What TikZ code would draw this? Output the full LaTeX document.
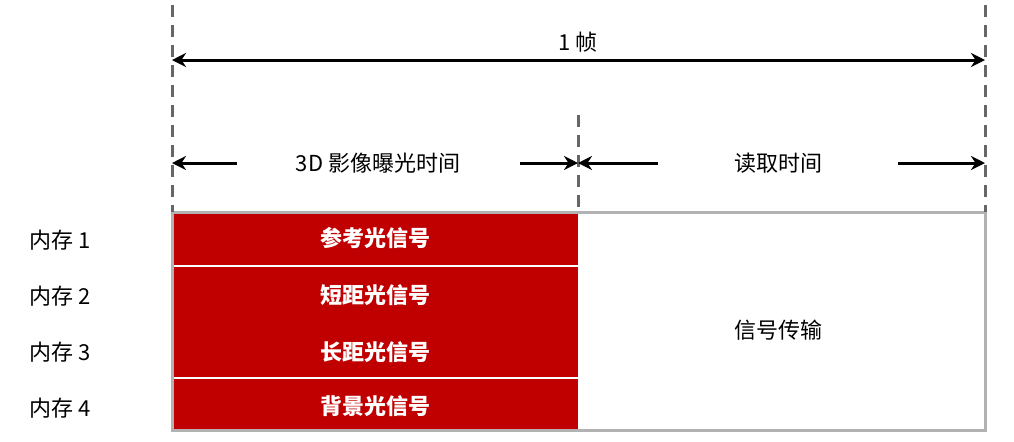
\documentclass[tikz,border=0pt]{standalone}
\usepackage{fontspec}
\setmainfont{Noto Sans CJK SC}
\usetikzlibrary{arrows.meta}
\definecolor{dred}{RGB}{192,0,0}
\begin{document}
\begin{tikzpicture}[x=0.5pt,y=-0.5pt,font=\fontsize{11}{13}\selectfont,
  guide/.style={draw=gray!80!black,line width=1.5pt,dash pattern=on 6pt off 4pt},
  arr/.style={line width=1.5pt,-{Stealth[length=7pt,width=7pt]}},
  lbl/.style={inner sep=0pt},
  wlbl/.style={inner sep=0pt,text=white,font=\fontsize{11}{13}\selectfont\bfseries}]
\useasboundingbox (0,0) rectangle (1014,441);
\fill[dred] (172,212) rectangle (578,430);
\draw[white,line width=0.6pt] (172,266) -- (578,266) (172,378) -- (578,378);
\draw[gray!60,line width=1.5pt] (172,212) rectangle (985,430);
\coordinate (g1t) at (172,5); \coordinate (g1b) at (172,212);
\coordinate (g2t) at (578,115); \coordinate (g2b) at (578,212);
\coordinate (g3t) at (985,5); \coordinate (g3b) at (985,212);
\draw[guide] (g1t) -- (g1b);
\draw[guide] (g2t) -- (g2b);
\draw[guide] (g3t) -- (g3b);
\coordinate (fa) at (172,60); \coordinate (fb) at (985,60);
\draw[arr,{Stealth[length=7pt,width=7pt]}-{Stealth[length=7pt,width=7pt]}] (fa) -- (fb);
\node[lbl] (frame) at (578,42) {1 帧};
\node[lbl] (exp) at (378,163) {3D 影像曝光时间};
\node[lbl] (read) at (778,163) {读取时间};
\coordinate (e1) at (172,163); \coordinate (e2) at (578,163);
\coordinate (r2) at (985,163);
\draw[arr] (237,163) -- (e1);
\draw[arr] (520,163) -- (e2);
\draw[arr] (658,163) -- (e2);
\draw[arr] (898,163) -- (r2);
\node[wlbl] (s1) at (375,238) {参考光信号};
\node[wlbl] (s2) at (375,295) {短距光信号};
\node[wlbl] (s3) at (375,352) {长距光信号};
\node[wlbl] (s4) at (375,406) {背景光信号};
\node[lbl] (tx) at (778,330) {信号传输};
\node[lbl] (m1) at (60,240) {内存 1};
\node[lbl] (m2) at (60,296) {内存 2};
\node[lbl] (m3) at (60,352) {内存 3};
\node[lbl] (m4) at (60,408) {内存 4};
\end{tikzpicture}
\end{document}
